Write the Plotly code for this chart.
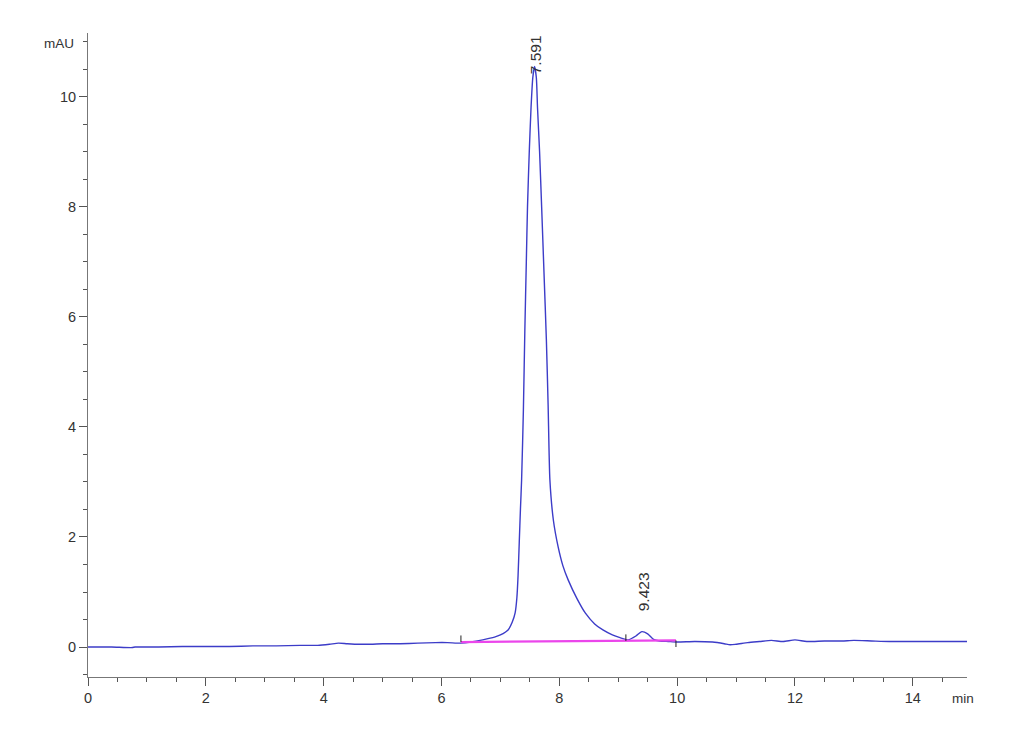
import plotly.graph_objects as go

# Chromatogram signal (time in min, absorbance in mAU)
time_min = [0.0, 0.4, 0.75, 0.8, 1.2, 1.6, 2.0, 2.4, 2.8, 3.2, 3.6, 3.9, 4.1, 4.25, 4.4,
            4.6, 4.8, 5.0, 5.3, 5.6, 5.9, 6.1, 6.33, 6.5, 6.7, 6.9, 7.0, 7.13, 7.2,
            7.25, 7.28, 7.3, 7.32, 7.34, 7.36, 7.39, 7.415, 7.44, 7.46, 7.49, 7.52,
            7.55, 7.58, 7.61, 7.63, 7.665, 7.7, 7.74, 7.78, 7.81, 7.84, 7.9, 7.98, 8.06,
            8.15, 8.3, 8.44, 8.6, 8.74, 8.9, 9.03, 9.17, 9.3, 9.4, 9.5, 9.6, 9.7, 9.85,
            10.0, 10.3, 10.6, 10.8, 10.9, 11.0, 11.2, 11.4, 11.6, 11.8, 12.0, 12.2, 12.5,
            12.8, 13.0, 13.3, 13.6, 14.0, 14.5, 14.92]
signal_mau = [0.0, 0.0, -0.01, 0.0, 0.0, 0.01, 0.01, 0.01, 0.02, 0.02, 0.03, 0.03, 0.05, 0.07, 0.06,
              0.05, 0.05, 0.06, 0.06, 0.07, 0.08, 0.08, 0.07, 0.09, 0.13, 0.18, 0.22, 0.31, 0.45,
              0.62, 0.9, 1.3, 1.9, 2.5, 3.04, 4.3, 5.76, 7.0, 8.0, 9.0, 9.8,
              10.35, 10.55, 10.35, 9.8, 9.0, 8.0, 6.8, 5.6, 4.4, 3.04, 2.3, 1.82, 1.48,
              1.22, 0.88, 0.62, 0.42, 0.31, 0.22, 0.17, 0.13, 0.2, 0.28, 0.24, 0.14, 0.11, 0.1,
              0.09, 0.1, 0.09, 0.06, 0.04, 0.05, 0.08, 0.1, 0.12, 0.1, 0.13, 0.1, 0.11,
              0.11, 0.12, 0.11, 0.1, 0.1, 0.1, 0.1]

# Integration baseline events
event_time = [6.33, 9.13, 9.98]
event_base = [0.09, 0.11, 0.12]
event_dir = [1, 1, -1]  # tick mark drawn above (+1) or below (-1)

# Peak labels
peak_rt = [7.591, 9.423]
peak_height = [10.55, 0.28]
peak_text = ["7.591", "9.423"]

x_ticks = [0, 2, 4, 6, 8, 10, 12, 14]
y_ticks = [0, 2, 4, 6, 8, 10]

FONT = "Liberation Sans, Arial"

fig = go.Figure()
fig.add_trace(go.Scatter(x=time_min, y=signal_mau, mode="lines",
                         line=dict(color="rgb(60,60,200)", width=1.4, shape="spline", smoothing=0.6),
                         hoverinfo="skip", showlegend=False))
fig.add_trace(go.Scatter(x=event_time, y=event_base, mode="lines",
                         line=dict(color="rgb(235,70,235)", width=2.2),
                         hoverinfo="skip", showlegend=False))

tick_x, tick_y = [], []
for t, b, d in zip(event_time, event_base, event_dir):
    tick_x += [t, t, None]
    tick_y += [b, b + d * 0.12, None]
fig.add_trace(go.Scatter(x=tick_x, y=tick_y, mode="lines",
                         line=dict(color="#222", width=1),
                         hoverinfo="skip", showlegend=False))

shifts = [-10, 18]
for rt, h, txt, s in zip(peak_rt, peak_height, peak_text, shifts):
    fig.add_annotation(x=rt, y=h, text=txt, showarrow=False, textangle=-90,
                       xanchor="center", yanchor="bottom", yshift=s,
                       font=dict(family=FONT, size=15.5, color="#333"))

fig.add_annotation(xref="paper", yref="paper", x=0, y=1, text="mAU", showarrow=False,
                   xanchor="right", yanchor="middle", xshift=-12, yshift=-10,
                   font=dict(family=FONT, size=13.5, color="#333"))
fig.add_annotation(xref="paper", yref="paper", x=1, y=0, text="min", showarrow=False,
                   xanchor="center", yanchor="top", xshift=-4, yshift=-12,
                   font=dict(family=FONT, size=13.5, color="#333"))

axis_common = dict(showgrid=False, zeroline=False, showline=True, linecolor="#777",
                   linewidth=1, ticks="outside", ticklen=8, tickcolor="#555",
                   tickfont=dict(family=FONT, size=14.5, color="#333"),
                   minor=dict(dtick=0.5, ticks="outside", ticklen=4, tickcolor="#555"))

fig.update_xaxes(range=[0, 14.92], tickvals=x_ticks, **axis_common)
fig.update_yaxes(range=[-0.545, 11.16], tickvals=y_ticks, **axis_common)

fig.update_layout(width=1014, height=739, plot_bgcolor="white", paper_bgcolor="white",
                  margin=dict(l=80, r=55, t=25, b=70), showlegend=False)

fig.write_html("out.html")
